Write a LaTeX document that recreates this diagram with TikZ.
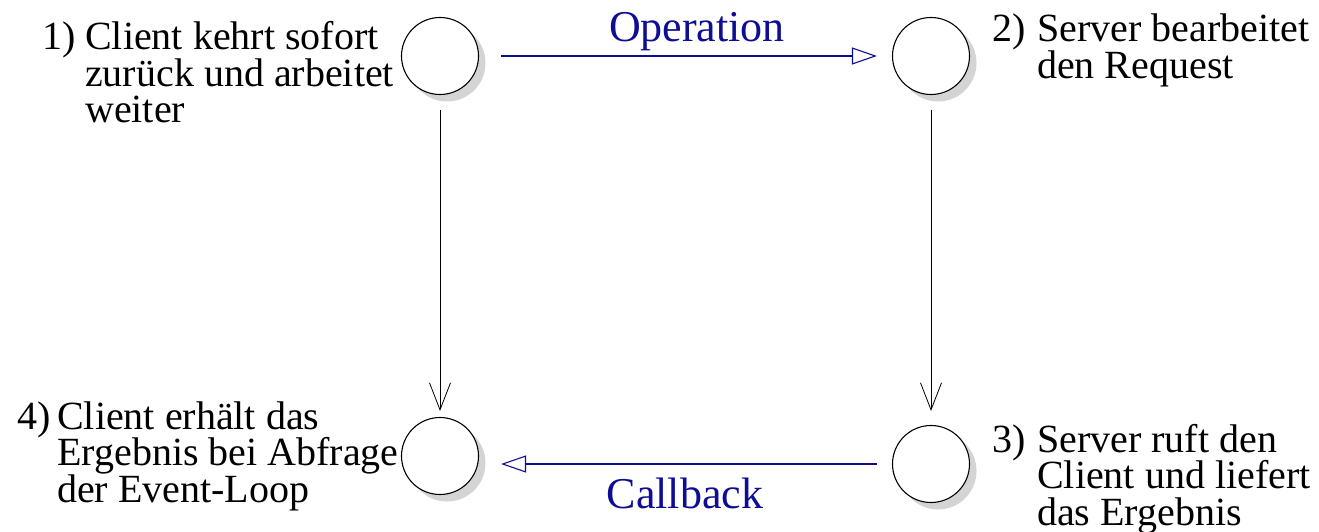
\documentclass[tikz,border=0pt]{standalone}
\usepackage{fontspec}
\setmainfont{Liberation Serif}
\usetikzlibrary{arrows.meta,shadows}

\definecolor{flowblue}{RGB}{14,14,148}

% several lines stacked, aligned left; the baseline is that of the first line
\newcommand\stacklines[1]{\vtop{\halign{##\hfil\cr#1\crcr}}}

\begin{document}
\begin{tikzpicture}[x=1pt,y=-1pt,
  state/.style={circle,draw=black,line width=1.1pt,fill=white,
    minimum size=77pt,inner sep=0pt,
    drop shadow={shadow xshift=7pt,shadow yshift=-7pt,fill=black!17,opacity=1}},
  note/.style={anchor=base west,inner sep=0pt,
    font=\fontsize{40}{36.5}\selectfont},
  msg/.style={anchor=base,inner sep=0pt,text=flowblue,
    font=\fontsize{44}{48}\selectfont},
  call/.style={draw=flowblue,line width=1.8pt,
    -{Triangle[open,length=25pt,width=17pt,line width=1.1pt]}},
  flow/.style={draw=black,line width=0.8pt,
    -{Straight Barb[length=27pt,width=21pt,line width=0.8pt]}}]

  \useasboundingbox (0,0) rectangle (1319,532);

  % the four states
  \node[state] (c1) at (440,56) {};
  \node[state] (c2) at (931,56) {};
  \node[state] (c3) at (931,464) {};
  \node[state] (c4) at (440,456) {};

  % request and callback
  \draw[call,shorten <=22pt,shorten >=15pt] (c1) -- (c2);
  \draw[call,shorten <=15pt,shorten >=22pt] (c3.west) -- (c4.east |- c3.west);

  % local flow of control
  \draw[flow,shorten <=15pt,shorten >=6pt] (c1) -- (c4);
  \draw[flow,shorten <=15pt,shorten >=14pt] (c2) -- (c3);

  % message names
  \node[msg] (op) at (697,42) {Operation};
  \node[msg] (cb) at (685,508) {Callback};

  % numbered explanations
  \node[note] (n1) at (42,50) {1)};
  \node[note] (t1) at (85,50) {\stacklines{Client kehrt sofort\cr zurück und arbeitet\cr weiter}};

  \node[note] (n2) at (992,42) {2)};
  \node[note] (t2) at (1037,42) {\stacklines{Server bearbeitet\cr den Request}};

  \node[note] (n3) at (992,452) {3)};
  \node[note] (t3) at (1037,452) {\stacklines{Server ruft den\cr Client und liefert\cr das Ergebnis}};

  \node[note] (n4) at (17,429) {4)};
  \node[note] (t4) at (57,429) {\stacklines{Client erhält das\cr Ergebnis bei Abfrage\cr der Event-Loop}};
\end{tikzpicture}
\end{document}
